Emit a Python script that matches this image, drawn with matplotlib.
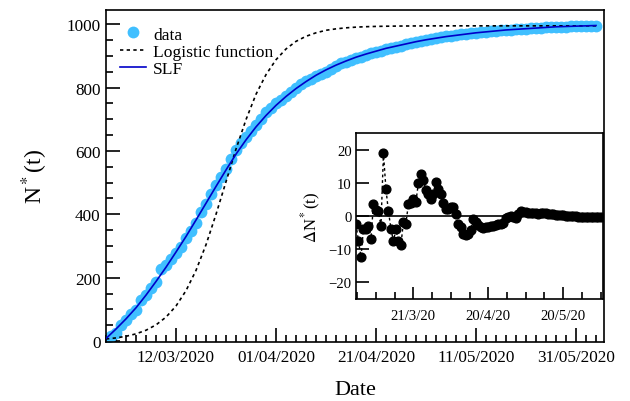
import numpy as np
import matplotlib
matplotlib.use("Agg")
import matplotlib.pyplot as plt
from matplotlib.ticker import FixedLocator, MultipleLocator

plt.rcParams['font.family'] = ['Liberation Serif', 'DejaVu Serif']
plt.rcParams['mathtext.fontset'] = 'stix'

# day 0 = 27/02/2020
days = np.arange(99)

# normalised cumulative data N*(t)
data = [5.5, 15.4, 25.7, 50.2, 66, 84, 98.2, 128.6, 146.9, 167.5,
        184.9, 228.9, 241.1, 258.4, 277.2, 297.4, 326, 348.4, 373.2, 406.2,
        432.7, 464.6, 492, 519.2, 544.2, 574.9, 602.7, 623.9, 642.8, 662.7,
        681.2, 700.7, 722.1, 736, 750.5, 762, 774.2, 787.2, 799.6, 810.6,
        819.6, 826.6, 835.6, 842.7, 850.2, 858.6, 866.7, 877.2, 882.2, 887.2,
        892.6, 897.4, 902.6, 907.8, 912, 917.1, 921.3, 925.5, 928.7, 932.8,
        937.5, 941.8, 945, 947.7, 950.3, 954.5, 957.5, 960.3, 962.1, 964,
        966, 967.8, 969.8, 971.7, 973.9, 975.9, 976.8, 978.6, 979.5, 981.5,
        982.4, 983.3, 984.2, 985.2, 986.1, 987, 987.9, 988.9, 989.9, 990.8,
        991.8, 992.8, 992.8, 993.7, 993.7, 994.7, 994.7, 995.7, 995.6]

# SLF fit (sampled every 2 days)
fit_days = np.arange(0, 99, 2)
slf = [8, 38, 70, 105, 145, 188, 233, 281, 330, 382,
       435, 488, 540, 590, 635, 676, 712, 744, 772, 797,
       819, 839, 856, 871, 884, 896, 906, 915, 924, 931,
       938, 945, 951, 956, 961, 965, 969, 973, 976, 979,
       982, 984, 986, 988, 990, 992, 993, 994, 995, 996]

# logistic fit (sampled every 2 days)
logistic = [6.5, 9.9, 15, 22.7, 34.1, 51, 75.5, 110.6, 159, 223,
            304, 400, 503, 606, 699, 779, 841, 888, 922, 946,
            962, 973, 981, 985.5, 988.7, 990.9, 992.3, 993.2, 993.8, 994.2,
            994.5, 994.7, 994.8, 994.9, 995, 995, 995, 995, 995, 995,
            995, 995, 995, 995, 995, 995, 995, 995, 995, 995]

# residuals data - SLF
resid = [-2.5, -7.6, -12.3, -3.8, -4, -3, -6.8, 3.6, 1.9, 1.5,
         -3.1, 18.9, 8.1, 1.4, -3.8, -7.6, -4, -7.6, -8.8, -1.8,
         -2.3, 3.6, 4, 5.2, 4.2, 9.9, 12.7, 10.9, 7.8, 6.7,
         5.2, 6.7, 10.1, 8, 6.5, 4, 2.2, 2.2, 2.6, 2.6,
         0.6, -2.4, -3.4, -5.3, -5.8, -5.4, -4.3, -0.8, -1.8, -2.8,
         -3.4, -3.6, -3.4, -3.2, -3.0, -2.9, -2.7, -2.5, -2.3, -2.2,
         -0.5, -0.2, 0, -0.3, -0.7, 0.5, 1.5, 1.3, 1.1, 1.0,
         1.0, 0.8, 0.8, 0.7, 0.9, 0.9, 0.8, 0.6, 0.5, 0.5,
         0.4, 0.3, 0.2, 0.2, 0.1, 0.0, -0.1, -0.1, -0.1, -0.2,
         -0.2, -0.2, -0.2, -0.3, -0.3, -0.3, -0.3, -0.3, -0.4]

main_ticks = [14, 34, 54, 74, 94]
main_labels = ['12/03/2020', '01/04/2020', '21/04/2020', '11/05/2020', '31/05/2020']
inset_ticks = [23, 53, 83]
inset_labels = ['21/3/20', '20/4/20', '20/5/20']

fig = plt.figure(figsize=(6.3, 4.02), dpi=100)
ax = fig.add_axes([106/630, 1-343/402, 498/630, 332/402])

ax.plot(days, data, 'o', color='#40bfff', ms=8.5, mec='none', label='data', zorder=2)
ax.plot(fit_days, logistic, color='black', lw=1.2, ls=(0, (2, 2)), label='Logistic function', zorder=3)
ax.plot(fit_days, slf, color='#0000c8', lw=1.2, label='SLF', zorder=4)

ax.set_xlim(0, 99.6)
ax.set_ylim(-3, 1045)
ax.xaxis.set_major_locator(FixedLocator(main_ticks))
ax.set_xticklabels(main_labels)
ax.xaxis.set_minor_locator(MultipleLocator(2))
ax.yaxis.set_major_locator(MultipleLocator(200))
ax.yaxis.set_minor_locator(MultipleLocator(50))
ax.tick_params(which='both', direction='in', top=False, right=False, labelsize=12.3, width=1.2)
ax.tick_params(which='major', length=10)
ax.tick_params(which='minor', length=5)
ax.tick_params(axis='x', pad=5)
ax.tick_params(axis='y', pad=4)
for s in ax.spines.values():
    s.set_linewidth(1.2)

ax.set_ylabel(r'N$^*$(t)', fontsize=17)
ax.yaxis.set_label_coords(-0.112, 0.5)
ax.set_xlabel('Date', fontsize=16, va='center')
ax.xaxis.set_label_coords(0.5, -0.142)

ax.legend(loc='upper left', bbox_to_anchor=(0.028, 0.951), frameon=False, fontsize=12.6,
          handlelength=1.5, handletextpad=0.4, labelspacing=0.05, borderpad=0, borderaxespad=0)

# inset with residuals
ins = fig.add_axes([356/630, 1-300/402, 247/630, 166/402])
ins.axhline(0, color='black', lw=1.2, zorder=1)
ins.plot(days, resid, color='black', lw=1, ls=(0, (2, 2)), marker='o', ms=6.3, zorder=2)
ins.set_xlim(0, 99)
ins.set_ylim(-25, 25)
ins.xaxis.set_major_locator(FixedLocator(inset_ticks))
ins.set_xticklabels(inset_labels)
ins.xaxis.set_minor_locator(MultipleLocator(7.5, offset=0.5))
ins.yaxis.set_major_locator(MultipleLocator(10))
ins.tick_params(which='both', direction='in', top=False, right=False, labelsize=10.6, width=1.2)
ins.tick_params(which='major', length=9)
ins.tick_params(which='minor', length=5)
ins.tick_params(axis='x', pad=7)
ins.tick_params(axis='y', pad=3)
for s in ins.spines.values():
    s.set_linewidth(1.2)
ins.set_ylabel(r'$\Delta$N$^*$(t)', fontsize=12)
ins.yaxis.set_label_coords(-0.135, 0.5)

fig.savefig('out.png', dpi=100)
